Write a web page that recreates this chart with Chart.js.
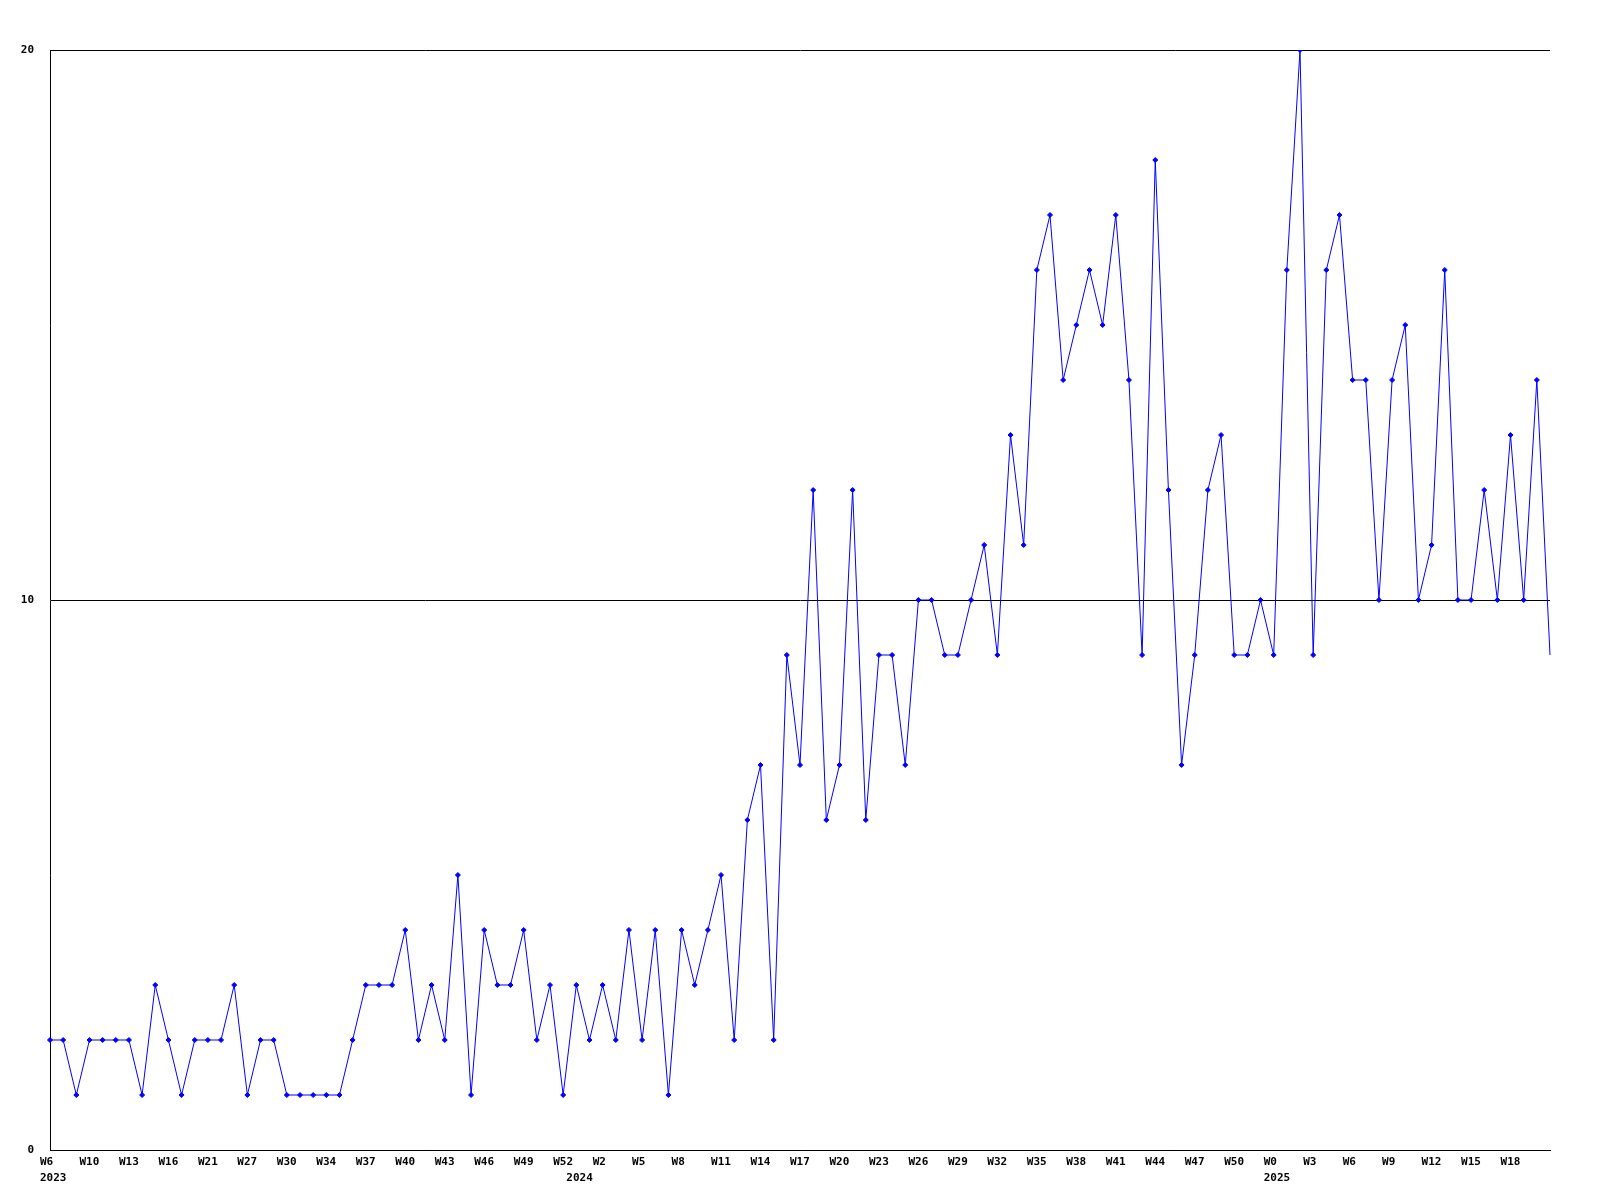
<!DOCTYPE html>
<html>
<head>
<meta charset="utf-8">
<script src="https://cdn.jsdelivr.net/npm/chart.js@4"></script>
<style>
  body { margin: 0; background: #fff; }
</style>
</head>
<body>
<canvas id="weeklyChart" width="1600" height="1200"></canvas>
<script>
// weekly counts, one per point
const values = [
  2, 2, 1, 2, 2, 2, 2, 1, 3, 2,
  1, 2, 2, 2, 3, 1, 2, 2, 1, 1,
  1, 1, 1, 2, 3, 3, 3, 4, 2, 3,
  2, 5, 1, 4, 3, 3, 4, 2, 3, 1,
  3, 2, 3, 2, 4, 2, 4, 1, 4, 3,
  4, 5, 2, 6, 7, 2, 9, 7, 12, 6,
  7, 12, 6, 9, 9, 7, 10, 10, 9, 9,
  10, 11, 9, 13, 11, 16, 17, 14, 15, 16,
  15, 17, 14, 9, 18, 12, 7, 9, 12, 13,
  9, 9, 10, 9, 16, 20, 9, 16, 17, 14,
  14, 10, 14, 15, 10, 11, 16, 10, 10, 12,
  10, 13, 10, 14, 9
];

// week labels shown on every 3rd point
const weekTicks = [
  "W6", "W10", "W13", "W16", "W21", "W27", "W30", "W34", "W37", "W40",
  "W43", "W46", "W49", "W52", "W2", "W5", "W8", "W11", "W14", "W17",
  "W20", "W23", "W26", "W29", "W32", "W35", "W38", "W41", "W44", "W47",
  "W50", "W0", "W3", "W6", "W9", "W12", "W15", "W18"
];
const weekTickEvery = 3;

// year labels and the point where each year starts
const yearNames = ["2023", "2024", "2025"];
const yearStarts = [0, 40, 93];

const yTicks = [0, 10, 20];

const labels = values.map((_, i) => i);
const tickFont = { family: "'DejaVu Sans Mono', monospace", size: 11, weight: "bold", lineHeight: "16px" };

new Chart(document.getElementById("weeklyChart"), {
  type: "line",
  data: {
    labels,
    datasets: [
      {
        data: values,
        borderColor: "#0000ff",
        backgroundColor: "#0000ff",
        borderWidth: 1,
        tension: 0,
        fill: false,
        pointStyle: "rectRot",
        pointRadius: (ctx) => (ctx.dataIndex === values.length - 1 ? 0 : 2.5),
        pointBorderWidth: 1,
      },
    ],
  },
  options: {
    responsive: false,
    animation: false,
    events: [],
    layout: { padding: { top: 50, right: 50, left: 0, bottom: 0 } },
    plugins: { legend: { display: false }, tooltip: { enabled: false } },
    scales: {
      x: {
        type: "category",
        offset: false,
        grid: { display: false, drawTicks: false },
        border: { display: true, color: "#000", width: 1 },
        afterFit: (s) => { s.height = 50; },
        ticks: {
          autoSkip: false,
          maxRotation: 0,
          minRotation: 0,
          align: "start",
          labelOffset: -10,
          padding: 4,
          color: "#000",
          font: tickFont,
          callback: (value, index) => {
            const week = index % weekTickEvery === 0 ? weekTicks[index / weekTickEvery] || "" : "";
            const y = yearStarts.indexOf(index);
            if (y >= 0) return [week, yearNames[y]];
            return week;
          },
        },
      },
      y: {
        min: yTicks[0],
        max: yTicks[yTicks.length - 1],
        afterFit: (s) => { s.width = 50; },
        afterBuildTicks: (s) => { s.ticks = yTicks.map((v) => ({ value: v })); },
        grid: { color: "#000", lineWidth: 1, drawTicks: false },
        border: { display: true, color: "#000", width: 1 },
        ticks: { padding: 16, color: "#000", font: tickFont },
      },
    },
  },
});
</script>
</body>
</html>
